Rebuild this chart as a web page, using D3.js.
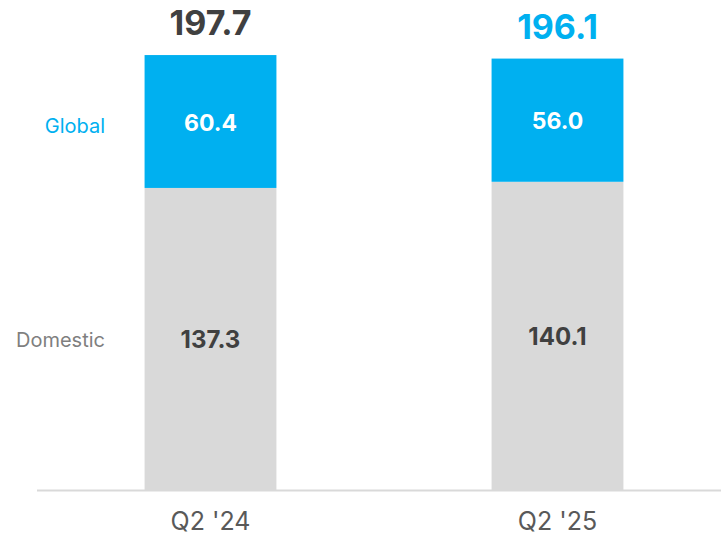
<!DOCTYPE html>
<html>
<head>
<meta charset="utf-8">
<script src="https://d3js.org/d3.v7.min.js"></script>
<style>
  body { margin: 0; background: #fff; }
  text { font-family: Inter, "Noto Sans", sans-serif; }
</style>
</head>
<body>
<div id="chart"></div>
<script>
// Data
const quarters = ["Q2 '24", "Q2 '25"];
const domestic = [137.3, 140.1];
const global = [60.4, 56.0];
const totals = [197.7, 196.1];
const totalColors = ["#404040", "#00b0f0"];

const width = 721, height = 538;
const svg = d3.select("#chart").append("svg")
  .attr("width", width).attr("height", height);

const x = d3.scaleBand()
  .domain(quarters)
  .range([37, 731])
  .paddingInner(0.62)
  .paddingOuter(0.31);

const y = d3.scaleLinear()
  .domain([0, 200])
  .range([490, 50]);

const rows = quarters.map((q, i) => ({ q, dom: domestic[i], glo: global[i], tot: totals[i], col: totalColors[i] }));

// Domestic bars
svg.selectAll(".dom").data(rows).enter().append("rect")
  .attr("x", d => x(d.q)).attr("width", x.bandwidth())
  .attr("y", d => y(d.dom)).attr("height", d => y(0) - y(d.dom))
  .attr("fill", "#d9d9d9");

// Global bars
svg.selectAll(".glo").data(rows).enter().append("rect")
  .attr("x", d => x(d.q)).attr("width", x.bandwidth())
  .attr("y", d => y(d.dom + d.glo)).attr("height", d => y(d.dom) - y(d.dom + d.glo))
  .attr("fill", "#00b0f0");

// Segment labels
svg.selectAll(".domlab").data(rows).enter().append("text")
  .attr("x", d => x(d.q) + x.bandwidth() / 2)
  .attr("y", d => (y(0) + y(d.dom)) / 2)
  .attr("dy", "0.36em").attr("text-anchor", "middle")
  .style("font-size", "24px").style("font-weight", 700).style("fill", "#404040")
  .text(d => d.dom.toFixed(1));

svg.selectAll(".glolab").data(rows).enter().append("text")
  .attr("x", d => x(d.q) + x.bandwidth() / 2)
  .attr("y", d => (y(d.dom) + y(d.dom + d.glo)) / 2)
  .attr("dy", "0.4em").attr("text-anchor", "middle")
  .style("font-size", "23px").style("font-weight", 700).style("fill", "#fff")
  .text(d => d.glo.toFixed(1));

// Totals
svg.selectAll(".tot").data(rows).enter().append("text")
  .attr("x", d => x(d.q) + x.bandwidth() / 2)
  .attr("y", d => y(d.tot) - 20)
  .attr("text-anchor", "middle")
  .style("font-size", "34px").style("font-weight", 700).style("fill", d => d.col)
  .text(d => d.tot.toFixed(1));

// Axis
const axis = svg.append("g")
  .attr("transform", `translate(0,${y(0)})`)
  .call(d3.axisBottom(x).tickSize(0).tickPadding(22));
axis.select(".domain").attr("d", "M37,0.5H721").attr("stroke", "#d9d9d9").attr("stroke-width", 2);
axis.selectAll("text")
  .style("font-size", "25px").style("fill", "#595959")
  .style("font-family", "Inter, 'Noto Sans', sans-serif");

// Series labels on the left
const first = rows[0];
svg.append("text")
  .attr("x", 105).attr("y", (y(first.dom) + y(first.dom + first.glo)) / 2 + 4)
  .attr("dy", "0.36em").attr("text-anchor", "end")
  .style("font-size", "20px").style("fill", "#00b0f0")
  .text("Global");
svg.append("text")
  .attr("x", 105).attr("y", (y(0) + y(first.dom)) / 2 + 1)
  .attr("dy", "0.36em").attr("text-anchor", "end")
  .style("font-size", "20px").style("fill", "#7f7f7f")
  .text("Domestic");
</script>
</body>
</html>
